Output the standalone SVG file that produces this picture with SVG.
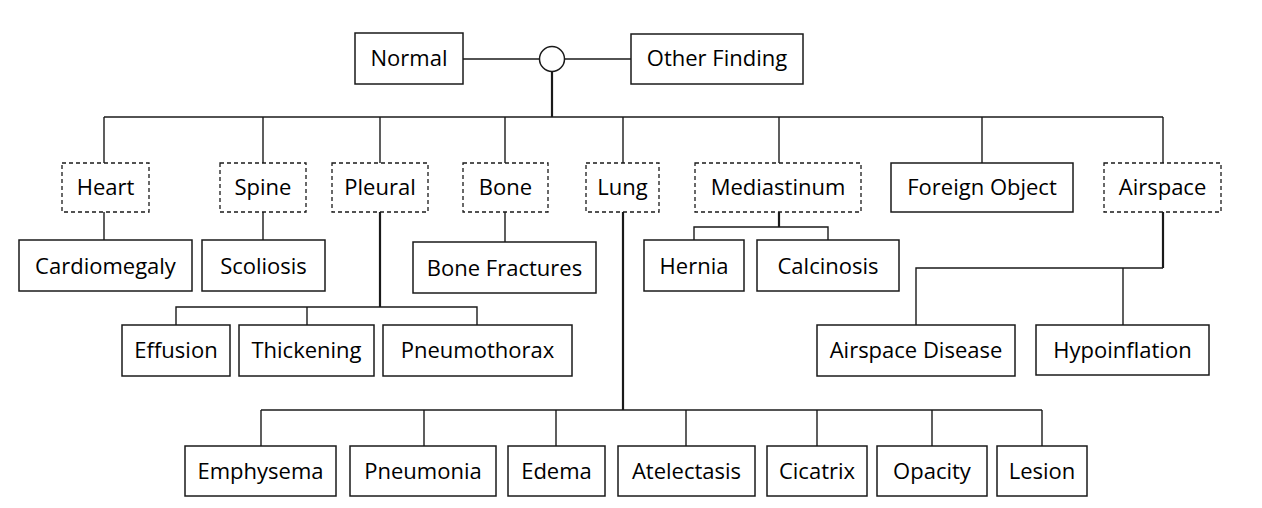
<svg xmlns="http://www.w3.org/2000/svg" width="1262" height="508" viewBox="0 0 1262 508">
<style>
  .box { fill: #ffffff; stroke: #1a1a1a; stroke-width: 1.5; }
  .dash { fill: #ffffff; stroke: #1a1a1a; stroke-width: 1.3; stroke-dasharray: 4 3; }
  .lbl { font-family: "Open Sans", "DejaVu Sans", sans-serif; font-size: 22px; fill: #000000; text-anchor: middle; }
  .ln { stroke: #1a1a1a; stroke-width: 1.4; fill: none; }
  .thick { stroke: #1a1a1a; stroke-width: 2.2; fill: none; }
</style>
<rect x="0" y="0" width="1262" height="508" fill="#ffffff"/>

<g id="connectors">
  <line class="ln" x1="463" y1="59" x2="539.5" y2="59"/>
  <line class="ln" x1="564.5" y1="59" x2="631" y2="59"/>
  <line class="thick" x1="552" y1="71.5" x2="552" y2="117"/>
  <line class="ln" x1="104" y1="117" x2="1163" y2="117"/>
  <line class="ln" x1="104" y1="117" x2="104" y2="163"/>
  <line class="ln" x1="263" y1="117" x2="263" y2="163"/>
  <line class="ln" x1="380" y1="117" x2="380" y2="163"/>
  <line class="ln" x1="505" y1="117" x2="505" y2="163"/>
  <line class="ln" x1="623" y1="117" x2="623" y2="163"/>
  <line class="ln" x1="779" y1="117" x2="779" y2="163"/>
  <line class="ln" x1="982" y1="117" x2="982" y2="163"/>
  <line class="ln" x1="1163" y1="117" x2="1163" y2="163"/>
  <line class="ln" x1="104" y1="212" x2="104" y2="240"/>
  <line class="ln" x1="263" y1="212" x2="263" y2="240"/>
  <line class="ln" x1="505" y1="212" x2="505" y2="242"/>
  <line class="thick" x1="779" y1="212" x2="779" y2="227"/>
  <polyline class="ln" points="694,240 694,227 828,227 828,240"/>
  <line class="thick" x1="380" y1="212" x2="380" y2="307"/>
  <polyline class="ln" points="176,325 176,307 477,307 477,325"/>
  <line class="ln" x1="307" y1="307" x2="307" y2="325"/>
  <line class="thick" x1="1163" y1="212" x2="1163" y2="268"/>
  <polyline class="ln" points="916,325 916,268 1163,268"/>
  <line class="ln" x1="1123" y1="268" x2="1123" y2="325"/>
  <line class="thick" x1="623" y1="212" x2="623" y2="410"/>
  <line class="ln" x1="261" y1="410" x2="1042" y2="410"/>
  <line class="ln" x1="261" y1="410" x2="261" y2="446"/>
  <line class="ln" x1="424" y1="410" x2="424" y2="446"/>
  <line class="ln" x1="556" y1="410" x2="556" y2="446"/>
  <line class="ln" x1="686" y1="410" x2="686" y2="446"/>
  <line class="ln" x1="817" y1="410" x2="817" y2="446"/>
  <line class="ln" x1="932" y1="410" x2="932" y2="446"/>
  <line class="ln" x1="1042" y1="410" x2="1042" y2="446"/>
</g>

<g id="junction"><circle class="box" cx="552" cy="59" r="12.5"/></g>

<g id="normal"><rect class="box" x="355" y="33" width="108" height="51"/><text class="lbl" x="409" y="66">Normal</text></g>
<g id="other-finding"><rect class="box" x="631" y="34" width="172" height="50"/><text class="lbl" x="717" y="66">Other Finding</text></g>

<g id="heart"><rect class="dash" x="62" y="163" width="87" height="49"/><text class="lbl" x="105.5" y="195">Heart</text></g>
<g id="spine"><rect class="dash" x="220" y="163" width="86" height="49"/><text class="lbl" x="263" y="195">Spine</text></g>
<g id="pleural"><rect class="dash" x="332" y="163" width="96" height="49"/><text class="lbl" x="380" y="195">Pleural</text></g>
<g id="bone"><rect class="dash" x="463" y="163" width="85" height="49"/><text class="lbl" x="505.5" y="195">Bone</text></g>
<g id="lung"><rect class="dash" x="586" y="163" width="73" height="49"/><text class="lbl" x="622.5" y="195">Lung</text></g>
<g id="mediastinum"><rect class="dash" x="695" y="163" width="166" height="49"/><text class="lbl" x="778" y="195">Mediastinum</text></g>
<g id="foreign-object"><rect class="box" x="891" y="163" width="182" height="49"/><text class="lbl" x="982" y="195">Foreign Object</text></g>
<g id="airspace"><rect class="dash" x="1104" y="163" width="117" height="49"/><text class="lbl" x="1162.5" y="195">Airspace</text></g>

<g id="cardiomegaly"><rect class="box" x="19" y="240" width="173" height="51"/><text class="lbl" x="105.5" y="273.5">Cardiomegaly</text></g>
<g id="scoliosis"><rect class="box" x="202" y="240" width="123" height="51"/><text class="lbl" x="263.5" y="273.5">Scoliosis</text></g>
<g id="bone-fractures"><rect class="box" x="413" y="242" width="183" height="51"/><text class="lbl" x="504.5" y="275.5">Bone Fractures</text></g>
<g id="hernia"><rect class="box" x="644" y="240" width="100" height="51"/><text class="lbl" x="694" y="273.5">Hernia</text></g>
<g id="calcinosis"><rect class="box" x="757" y="240" width="142" height="51"/><text class="lbl" x="828" y="273.5">Calcinosis</text></g>

<g id="effusion"><rect class="box" x="122" y="325" width="108" height="51"/><text class="lbl" x="176" y="358">Effusion</text></g>
<g id="thickening"><rect class="box" x="239" y="325" width="135" height="51"/><text class="lbl" x="306.5" y="358">Thickening</text></g>
<g id="pneumothorax"><rect class="box" x="383" y="325" width="189" height="51"/><text class="lbl" x="477.5" y="358">Pneumothorax</text></g>
<g id="airspace-disease"><rect class="box" x="817" y="325" width="198" height="51"/><text class="lbl" x="916" y="358">Airspace Disease</text></g>
<g id="hypoinflation"><rect class="box" x="1036" y="325" width="173" height="50"/><text class="lbl" x="1122.5" y="358">Hypoinflation</text></g>

<g id="emphysema"><rect class="box" x="185" y="446" width="151" height="50"/><text class="lbl" x="260.5" y="478.5">Emphysema</text></g>
<g id="pneumonia"><rect class="box" x="350" y="446" width="146" height="50"/><text class="lbl" x="423" y="478.5">Pneumonia</text></g>
<g id="edema"><rect class="box" x="508" y="446" width="97" height="50"/><text class="lbl" x="556.5" y="478.5">Edema</text></g>
<g id="atelectasis"><rect class="box" x="618" y="446" width="137" height="50"/><text class="lbl" x="686.5" y="478.5">Atelectasis</text></g>
<g id="cicatrix"><rect class="box" x="767" y="446" width="100" height="50"/><text class="lbl" x="817" y="478.5">Cicatrix</text></g>
<g id="opacity"><rect class="box" x="877" y="446" width="110" height="50"/><text class="lbl" x="932" y="478.5">Opacity</text></g>
<g id="lesion"><rect class="box" x="997" y="446" width="90" height="50"/><text class="lbl" x="1042" y="478.5">Lesion</text></g>
</svg>
